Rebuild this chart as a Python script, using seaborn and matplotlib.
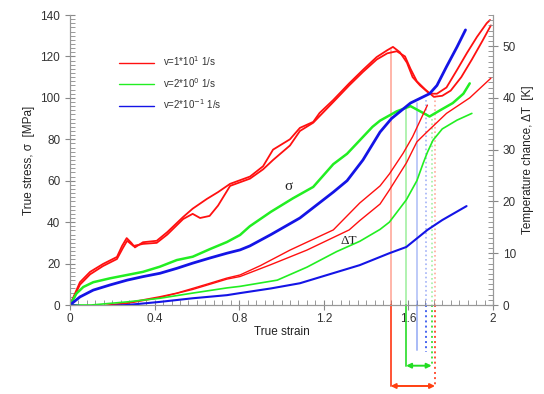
import numpy as np
import pandas as pd
import matplotlib
matplotlib.use("Agg")
import matplotlib.pyplot as plt
import seaborn as sns
from matplotlib.ticker import MultipleLocator

# ---------------- data ----------------
# stress curves, v = 1e1 1/s (two tests)
red_sig_a_x = [0, 0.047, 0.095, 0.156, 0.222, 0.246, 0.268, 0.29, 0.307, 0.345, 0.41, 0.46, 0.535, 0.58, 0.647,
               0.70, 0.757, 0.851, 0.913, 0.96, 1.04, 1.087, 1.15, 1.18, 1.245, 1.32, 1.385, 1.45, 1.5, 1.527,
               1.56, 1.593, 1.62, 1.655, 1.70, 1.735, 1.78, 1.83, 1.877, 1.924, 1.97, 1.986]
red_sig_a_y = [0, 11.0, 16.0, 19.8, 23.2, 28.5, 32.3, 30.0, 27.8, 30.3, 31.0, 35.2, 42.5, 46.5, 51.2,
               54.5, 58.5, 62.0, 67.0, 75.0, 80.0, 85.5, 88.4, 92.7, 99.0, 107.0, 113.5, 119.7, 123.0, 124.6,
               122.0, 117.0, 110.0, 106.0, 102.0, 102.0, 105.0, 113.5, 121.7, 129.4, 136.0, 137.6]
red_sig_b_x = [0, 0.047, 0.095, 0.156, 0.222, 0.25, 0.27, 0.30, 0.345, 0.41, 0.46, 0.535, 0.58, 0.615,
               0.66, 0.70, 0.757, 0.851, 0.913, 0.96, 1.04, 1.087, 1.15, 1.245, 1.32, 1.385, 1.45, 1.5, 1.545,
               1.584, 1.61, 1.64, 1.68, 1.72, 1.76, 1.80, 1.85, 1.90, 1.95, 1.99]
red_sig_b_y = [0, 9.8, 14.8, 18.8, 22.2, 27.5, 31.0, 28.5, 29.5, 30.0, 34.0, 41.5, 44.0, 42.0,
               43.0, 48.0, 57.5, 61.0, 65.5, 70.0, 77.0, 84.0, 88.0, 98.0, 106.0, 112.5, 118.5, 121.5, 122.5,
               120.0, 114.0, 108.0, 104.0, 100.5, 101.0, 103.5, 110.0, 118.5, 127.5, 135.0]
# stress, v = 2e0 1/s
grn_sig_x = [0, 0.031, 0.063, 0.11, 0.19, 0.27, 0.345, 0.425, 0.505, 0.58, 0.662, 0.742, 0.804, 0.85,
             0.95, 1.054, 1.15, 1.245, 1.31, 1.43, 1.466, 1.545, 1.61, 1.67, 1.70, 1.75, 1.81, 1.86, 1.89]
grn_sig_y = [0, 5.6, 8.7, 11.0, 12.9, 14.5, 16.0, 18.5, 21.7, 23.3, 27.0, 30.4, 33.8, 38.0,
             45.0, 51.5, 57.0, 68.0, 73.0, 86.0, 89.0, 93.5, 96.0, 92.7, 91.0, 94.0, 97.5, 102.0, 107.0]
# stress, v = 2e-1 1/s
blu_sig_x = [0, 0.047, 0.11, 0.19, 0.27, 0.345, 0.425, 0.505, 0.58, 0.662, 0.742, 0.804, 0.85,
             0.95, 1.087, 1.245, 1.31, 1.385, 1.466, 1.52, 1.61, 1.65, 1.70, 1.735, 1.78, 1.83, 1.87]
blu_sig_y = [0, 3.9, 7.2, 9.7, 12.0, 13.7, 15.3, 17.7, 20.2, 22.7, 25.0, 26.6, 28.5,
             34.0, 42.0, 54.5, 60.0, 70.0, 83.5, 90.0, 97.5, 99.5, 102.0, 106.0, 115.0, 124.6, 132.8]

# temperature change curves (right axis, K)
red_dT_a_x = [0, 0.1, 0.27, 0.345, 0.425, 0.505, 0.58, 0.662, 0.742, 0.804, 0.9, 1.04, 1.245, 1.37, 1.466,
              1.51, 1.575, 1.62, 1.69]
red_dT_a_y = [0, -0.4, 0.4, 1.0, 1.6, 2.3, 3.2, 4.2, 5.2, 5.8, 7.6, 10.6, 14.5, 19.7, 23.0,
              25.3, 29.3, 32.5, 38.6]
red_dT_b_x = [0, 0.1, 0.27, 0.42, 0.58, 0.742, 0.804, 0.95, 1.12, 1.32, 1.37, 1.466, 1.51, 1.59, 1.64,
              1.69, 1.78, 1.89, 1.99]
red_dT_b_y = [0, -0.4, 0.3, 1.4, 3.0, 5.0, 5.5, 7.8, 10.6, 14.5, 16.3, 19.5, 22.2, 27.4, 31.5,
              33.5, 37.0, 40.0, 43.8]
grn_dT_x = [0, 0.1, 0.27, 0.425, 0.58, 0.742, 0.804, 0.98, 1.12, 1.26, 1.37, 1.466, 1.51, 1.59, 1.64,
            1.67, 1.69, 1.716, 1.76, 1.83, 1.90]
grn_dT_y = [0, 0.0, 0.6, 1.3, 2.3, 3.3, 3.6, 4.8, 7.3, 10.3, 12.3, 14.6, 16.0, 20.3, 24.0,
            27.4, 29.5, 31.8, 34.0, 35.7, 37.0]
blu_dT_x = [0, 0.1, 0.27, 0.425, 0.58, 0.742, 0.804, 0.95, 1.087, 1.2, 1.37, 1.51, 1.59, 1.69, 1.76, 1.875]
blu_dT_y = [0, -0.4, 0.0, 0.6, 1.3, 1.9, 2.3, 3.2, 4.2, 5.6, 7.7, 10.0, 11.2, 14.5, 16.4, 19.1]

# marker lines at characteristic strains: (strain, top stress, bottom stress)
vline_strain = [1.516, 1.589, 1.639, 1.683, 1.710, 1.726]
vline_top = [123.0, 95.0, 97.5, 99.0, 90.0, 101.0]
vline_bottom = [-39.1, -29.3, -21.7, -22.7, -29.3, -39.1]

legend_labels = [r"v=1*10$^{1}$ 1/s", r"v=2*10$^{0}$ 1/s", r"v=2*10$^{-1}$ 1/s"]
x_ticks = [0, 0.4, 0.8, 1.2, 1.6, 2.0]
x_tick_labels = ["0", "0.4", "0.8", "1.2", "1.6", "2"]

RED = "#ff1010"
GRN = "#22ee22"
BLU = "#1414e6"

# ---------------- plotting ----------------
sns.set_theme(style="white")
plt.rcParams["font.family"] = ["Liberation Sans", "DejaVu Sans"]
plt.rcParams["mathtext.fontset"] = "dejavusans"

fig = plt.figure(figsize=(5.44, 3.94), dpi=100)
ax = fig.add_axes([70 / 544, 89 / 394, 423 / 544, 290 / 394])
ax2 = ax.twinx()


def draw(a, xs, ys, color, lw, label=None, alpha=1.0):
    df = pd.DataFrame({"x": xs, "y": ys})
    sns.lineplot(data=df, x="x", y="y", ax=a, color=color, lw=lw, sort=False,
                 estimator=None, label=label, legend=False, alpha=alpha)


draw(ax, red_sig_a_x, red_sig_a_y, RED, 1.3)
draw(ax, red_sig_b_x, red_sig_b_y, RED, 1.3)
draw(ax, grn_sig_x, grn_sig_y, GRN, 1.8)
draw(ax, blu_sig_x, blu_sig_y, BLU, 2.0)

draw(ax2, red_dT_a_x, red_dT_a_y, RED, 1.0)
draw(ax2, red_dT_b_x, red_dT_b_y, RED, 1.0)
draw(ax2, grn_dT_x, grn_dT_y, GRN, 1.2)
draw(ax2, blu_dT_x, blu_dT_y, BLU, 1.5)

# vertical marker lines
vcols = ["#ff4020", "#33dd33", "#5577ee", "#3355ee", "#33dd33", "#ff4020"]
vstyles = ["-", "-", "-", ":", ":", ":"]
for s, t, b, c, ls in zip(vline_strain, vline_top, vline_bottom, vcols, vstyles):
    ax.plot([s, s], [t, 0], color=c, lw=1.2, ls=ls, alpha=0.45, clip_on=False, zorder=1)
    ax.plot([s, s], [0, b], color=c, lw=1.4, ls=ls, alpha=0.9 if ls == ":" or c != "#5577ee" else 0.5,
            clip_on=False, zorder=1)

# double arrows below axis
ax.annotate("", xy=(vline_strain[1], vline_bottom[1]), xytext=(vline_strain[4], vline_bottom[4]),
            xycoords="data", annotation_clip=False,
            arrowprops=dict(arrowstyle="<|-|>", color="#22dd22", lw=1.4, mutation_scale=7, shrinkA=0, shrinkB=0))
ax.annotate("", xy=(vline_strain[0], vline_bottom[0]), xytext=(vline_strain[5], vline_bottom[5]),
            xycoords="data", annotation_clip=False,
            arrowprops=dict(arrowstyle="<|-|>", color="#ff4010", lw=1.4, mutation_scale=7, shrinkA=0, shrinkB=0))

# text labels
ax.text(1.035, 57, "σ", fontsize=11, family="Liberation Serif", ha="center", va="center", color="#222222")
ax.text(1.32, 31, "ΔT", fontsize=9.5, family="Liberation Serif", ha="center", va="center", color="#222222")

# legend
handles = [plt.Line2D([], [], color=c, lw=1.0) for c in (RED, GRN, BLU)]
ax.legend(handles, legend_labels, loc="upper left", bbox_to_anchor=(0.095, 0.895), frameon=False,
          fontsize=7.0, handlelength=3.6, labelspacing=0.8, handletextpad=0.9, labelcolor="#333333")

# axes limits and ticks
ax.set_xlim(0, 2)
ax.set_ylim(0, 140)
ax2.set_ylim(0, 56)
ax.set_xticks(x_ticks)
ax.set_xticklabels(x_tick_labels)
ax.set_yticks(np.arange(0, 141, 20))
ax2.set_yticks(np.arange(0, 51, 10))
ax.xaxis.set_minor_locator(MultipleLocator(0.04))
ax.yaxis.set_minor_locator(MultipleLocator(2))
ax2.yaxis.set_minor_locator(MultipleLocator(1))

tick_col = "#888888"
for a in (ax, ax2):
    a.tick_params(which="major", direction="inout", length=7, width=0.8, color=tick_col,
                  labelsize=8.5, labelcolor="#333333")
    a.tick_params(which="minor", direction="in", length=3.5, width=0.6, color=tick_col)
    for sp in a.spines.values():
        sp.set_color("#999999")
        sp.set_linewidth(0.8)
    a.spines["top"].set_visible(False)
ax.tick_params(axis="x", which="both", bottom=True, pad=2)
ax.tick_params(axis="y", which="both", left=True, right=False)
ax2.tick_params(axis="y", which="both", right=True, left=False)

ax.set_xlabel("True strain", fontsize=8.5, color="#222222", labelpad=1)
ax.set_ylabel("True stress, σ  [MPa]", fontsize=8.5, color="#222222", labelpad=4)
ax2.set_ylabel("Temperature chance, ΔT  [K]", fontsize=8.5, color="#222222", labelpad=4)

fig.savefig("out.png", dpi=100)
